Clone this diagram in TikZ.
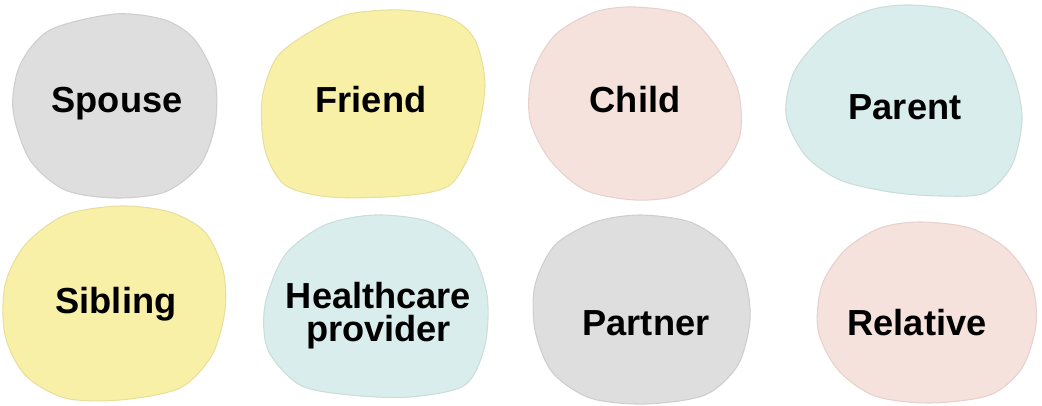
\documentclass[tikz,border=0pt]{standalone}
\usepackage{fontspec}
\setmainfont{Liberation Sans}
\usepackage{xcolor}
\usepackage{tikz}
\usetikzlibrary{positioning}

\definecolor{blobgray}{RGB}{222,222,222}
\definecolor{blobyellow}{RGB}{249,240,168}
\definecolor{blobpink}{RGB}{246,226,221}
\definecolor{blobteal}{RGB}{217,238,236}

\tikzset{
  blob/.style={fill=#1, draw=#1!93!black, line width=0.3pt},
  lbl/.style={font=\bfseries\fontsize{10.3}{9.4}\selectfont, inner sep=0pt, align=center}
}

\begin{document}
\begin{tikzpicture}[x=0.01cm, y=-0.01cm]
      \useasboundingbox (0,0) rectangle (1042,406);

      % top row
      \draw[blob=blobgray] plot[smooth cycle] coordinates {(115,14) (165,20) (195,40) (215,80) (215,125) (200,165) (165,192) (115,198) (65,190) (30,160) (13,110) (20,65) (50,30)};
      \draw[blob=blobyellow] plot[smooth cycle] coordinates {(400,10) (450,18) (475,40) (485,85) (475,140) (450,185) (400,196) (330,197) (285,185) (265,150) (262,100) (275,60) (300,38) (345,15)};
      \draw[blob=blobpink] plot[smooth cycle] coordinates {(635,7) (685,15) (715,45) (738,90) (740,135) (720,170) (680,195) (635,200) (585,190) (550,160) (530,120) (532,75) (555,35) (595,12)};
      \draw[blob=blobteal] plot[smooth cycle] coordinates {(910,5) (960,12) (995,40) (1015,80) (1022,120) (1012,165) (985,193) (940,196) (890,192) (840,180) (805,155) (786,115) (795,70) (830,30) (870,10)};

      % bottom row
      \draw[blob=blobyellow] plot[smooth cycle] coordinates {(120,206) (170,212) (205,232) (223,270) (225,310) (212,355) (180,388) (120,400) (65,398) (25,375) (5,335) (5,285) (25,245) (65,215)};
      \draw[blob=blobteal] plot[smooth cycle] coordinates {(375,215) (430,222) (470,250) (487,295) (485,345) (465,385) (410,397) (350,395) (300,385) (268,350) (265,305) (285,255) (325,225)};
      \draw[blob=blobgray] plot[smooth cycle] coordinates {(640,215) (690,222) (725,245) (745,280) (750,320) (738,365) (705,395) (645,404) (590,398) (552,372) (535,330) (535,285) (555,245) (595,222)};
      \draw[blob=blobpink] plot[smooth cycle] coordinates {(920,222) (970,228) (1008,250) (1032,285) (1036,325) (1022,368) (990,395) (930,403) (875,396) (838,370) (818,330) (822,285) (845,250) (880,228)};

      \node[lbl, anchor=base] (spouse) at (117,113) {Spouse};
      \node[lbl, anchor=base] (friend) at (371,113) {Friend};
      \node[lbl, anchor=base] (child) at (635,112) {Child};
      \node[lbl, anchor=base] (parent) at (905,120) {Parent};
      \node[lbl, anchor=base] (sibling) at (116,313) {Sibling};
      \node[lbl] (health) at (378.5,315.5) {Healthcare\\provider};
      \node[lbl, anchor=base] (partner) at (646,335) {Partner};
      \node[lbl, anchor=base] (relative) at (917,335) {Relative};
\end{tikzpicture}
\end{document}
